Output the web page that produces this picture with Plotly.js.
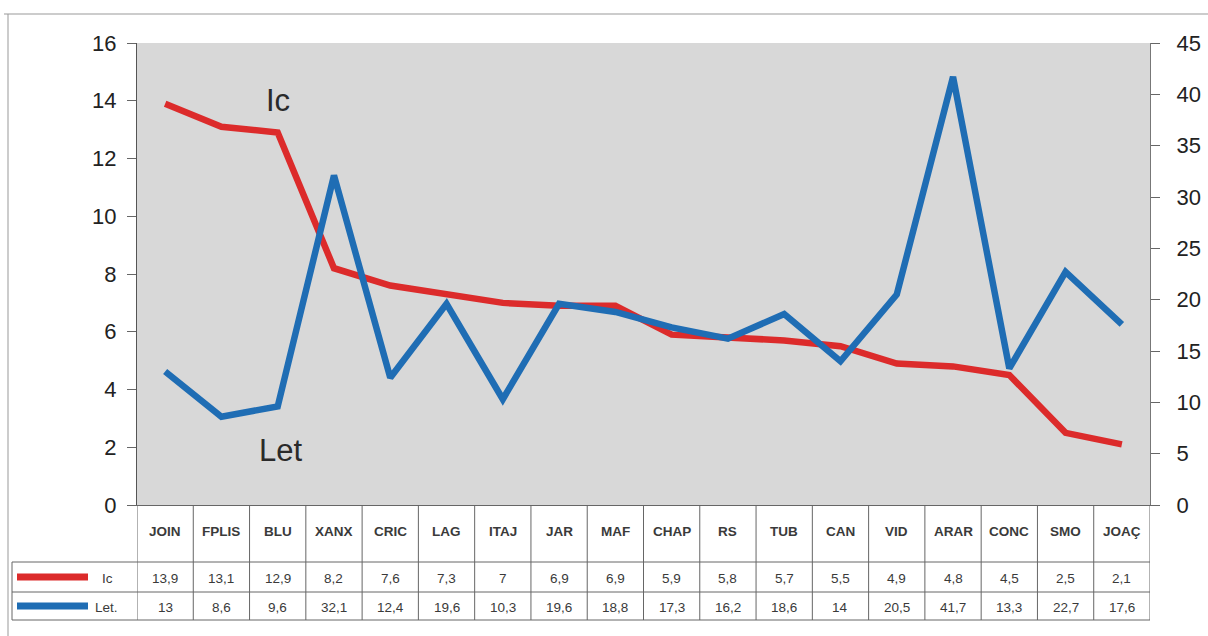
<!DOCTYPE html>
<html>
<head>
<meta charset="utf-8">
<script src="https://cdn.plot.ly/plotly-3.0.1.min.js"></script>
<style>html,body{margin:0;padding:0;background:#fff;}#chart{width:1208px;height:636px;}</style>
</head>
<body>
<div id="chart"></div>
<script>
const categories = ["JOIN","FPLIS","BLU","XANX","CRIC","LAG","ITAJ","JAR","MAF","CHAP","RS","TUB","CAN","VID","ARAR","CONC","SMO","JOAÇ"];
const icValues  = [13.9,13.1,12.9,8.2,7.6,7.3,7,6.9,6.9,5.9,5.8,5.7,5.5,4.9,4.8,4.5,2.5,2.1];
const letValues = [13,8.6,9.6,32.1,12.4,19.6,10.3,19.6,18.8,17.3,16.2,18.6,14,20.5,41.7,13.3,22.7,17.6];
const seriesNames = ["Ic","Let"];
const tableRowLabels = ["Ic","Let."];

const fmt = v => String(v).replace('.', ',');
const idx = categories.map((c,i)=>i);

const redC = '#dc2b2b', blueC = '#1f6db4';
const font = 'Liberation Sans, Arial, sans-serif';

const traces = [
  {x: idx, y: icValues, name: seriesNames[0], type:'scatter', mode:'lines',
   line:{color:redC, width:6.5}, yaxis:'y'},
  {x: idx, y: letValues, name: seriesNames[1], type:'scatter', mode:'lines',
   line:{color:blueC, width:6.5}, yaxis:'y2'}
];

// table geometry in paper coords (plot area: x 137..1150, y 43..505)
const W = 1013, H = 462;
const px = X => (X-137)/W;
const py = Y => (505-Y)/H;

const shapes = [];
const annotations = [];
const lineCol = '#666';
// vertical table lines
for (let i=0;i<=categories.length;i++){
  shapes.push({type:'line', xref:'x', yref:'paper', x0:i-0.5, x1:i-0.5, y0:0, y1:py(620),
    line:{color:lineCol, width:1}});
}
// horizontal table lines
[562,592,620].forEach(Y=>{
  shapes.push({type:'line', xref:'paper', yref:'paper', x0:px(12), x1:1, y0:py(Y), y1:py(Y),
    line:{color:lineCol, width:1}});
});
// left border of table rows
shapes.push({type:'line', xref:'paper', yref:'paper', x0:px(12), x1:px(12), y0:py(562), y1:py(620),
  line:{color:lineCol, width:1}});
// outer frame
shapes.push({type:'line', xref:'paper', yref:'paper', x0:px(4), x1:px(1208), y0:py(14), y1:py(14),
  line:{color:'#999', width:1}});
shapes.push({type:'line', xref:'paper', yref:'paper', x0:px(8), x1:px(8), y0:py(14), y1:py(636),
  line:{color:'#999', width:1}});
// legend keys
shapes.push({type:'line', xref:'paper', yref:'paper', x0:px(17), x1:px(88), y0:py(577), y1:py(577),
  line:{color:redC, width:7}});
shapes.push({type:'line', xref:'paper', yref:'paper', x0:px(17), x1:px(88), y0:py(606), y1:py(606),
  line:{color:blueC, width:7}});

const tfont = {family:font, size:13.5, color:'#3a3a3a'};
categories.forEach((c,i)=>{
  annotations.push({xref:'x', yref:'paper', x:i, y:py(531), text:'<b>'+c+'</b>', showarrow:false,
    font:tfont, xanchor:'center', yanchor:'middle'});
  annotations.push({xref:'x', yref:'paper', x:i, y:py(578), text:fmt(icValues[i]), showarrow:false,
    font:tfont, xanchor:'center', yanchor:'middle'});
  annotations.push({xref:'x', yref:'paper', x:i, y:py(607), text:fmt(letValues[i]), showarrow:false,
    font:tfont, xanchor:'center', yanchor:'middle'});
});
annotations.push({xref:'paper', yref:'paper', x:px(100), y:py(578), text:tableRowLabels[0], showarrow:false,
  font:tfont, xanchor:'left', yanchor:'middle'});
annotations.push({xref:'paper', yref:'paper', x:px(93), y:py(607), text:tableRowLabels[1], showarrow:false,
  font:tfont, xanchor:'left', yanchor:'middle'});
// series labels in plot
annotations.push({xref:'x', yref:'y', x:2, y:14, text:seriesNames[0], showarrow:false,
  font:{family:font, size:31, color:'#2a2a2a'}, xanchor:'center', yanchor:'middle'});
annotations.push({xref:'x', yref:'y', x:2.05, y:1.9, text:seriesNames[1], showarrow:false,
  font:{family:font, size:31, color:'#2a2a2a'}, xanchor:'center', yanchor:'middle'});

const layout = {
  width:1208, height:636,
  margin:{l:137, r:58, t:43, b:131},
  paper_bgcolor:'#ffffff',
  plot_bgcolor:'#d8d8d8',
  showlegend:false,
  xaxis:{type:'linear', range:[-0.5,17.5], showticklabels:false, ticks:'', showgrid:false,
    zeroline:false, showline:true, linecolor:'#666', linewidth:1, fixedrange:true},
  yaxis:{range:[0,16], dtick:2, tick0:0, ticks:'outside', ticklen:9, tickcolor:'#666',
    ticklabelstandoff:6,
    showline:true, linecolor:'#555', linewidth:1, showgrid:false, zeroline:false,
    tickfont:{family:font, size:22, color:'#222'}},
  yaxis2:{range:[0,45], dtick:5, tick0:0, overlaying:'y', side:'right', ticks:'outside',
    ticklen:9, tickcolor:'#666', ticklabelstandoff:12, showline:true, linecolor:'#777', linewidth:1,
    showgrid:false, zeroline:false, tickfont:{family:font, size:22, color:'#222'}},
  shapes: shapes,
  annotations: annotations
};

Plotly.newPlot('chart', traces, layout, {staticPlot:true, displayModeBar:false});
</script>
</body>
</html>
